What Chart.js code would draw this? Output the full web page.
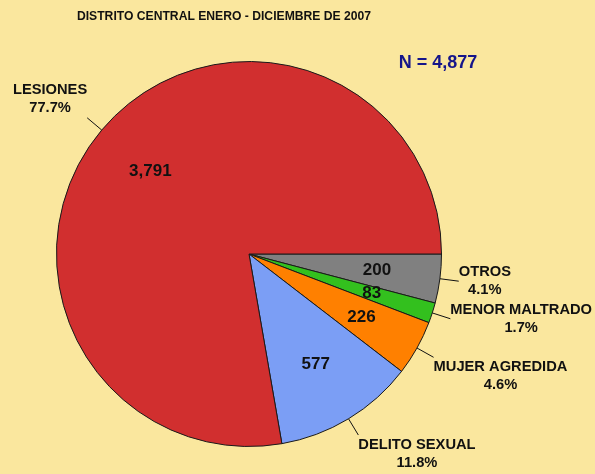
<!DOCTYPE html>
<html>
<head>
<meta charset="utf-8">
<script src="https://cdn.jsdelivr.net/npm/chart.js@4/dist/chart.umd.min.js"></script>
<style>
  html, body { margin: 0; padding: 0; background: #FAE79E; }
  #wrap { width: 595px; height: 474px; }
</style>
</head>
<body>
<div id="wrap"><canvas id="pieChart" width="595" height="474"></canvas></div>
<script>
// data (clockwise from 3 o'clock)
const categories = ['OTROS', 'MENOR MALTRADO', 'MUJER AGREDIDA', 'DELITO SEXUAL', 'LESIONES'];
const counts = [200, 83, 226, 577, 3791];
const sliceColors = ['#808080', '#33C01E', '#FF8000', '#7B9EF5', '#D12F2F'];
const chartTitle = 'DISTRITO CENTRAL ENERO - DICIEMBRE DE 2007';
const total = counts.reduce((a, b) => a + b, 0);

const FONT = '"Liberation Sans", Arial, sans-serif';

// draws background, titles, values and outside labels
const labelPlugin = {
    id: 'pieLabels',
    beforeDraw(chart) {
        const ctx = chart.ctx;
        ctx.save();
        ctx.fillStyle = '#FAE79E';
        ctx.fillRect(0, 0, chart.width, chart.height);
        ctx.restore();
    },
    afterDraw(chart) {
        const ctx = chart.ctx;
        const arcs = chart.getDatasetMeta(0).data;
        ctx.save();

        // title (slightly condensed, like the original)
        ctx.fillStyle = '#111';
        ctx.textAlign = 'center';
        ctx.textBaseline = 'middle';
        ctx.save();
        ctx.translate(224, 16);
        ctx.scale(0.9, 1);
        ctx.font = 'bold 13.5px ' + FONT;
        ctx.fillText(chartTitle, 0, 0);
        ctx.restore();

        // N = total
        ctx.fillStyle = '#15158A';
        ctx.font = 'bold 18px ' + FONT;
        ctx.fillText('N = ' + total.toLocaleString('en-US'), 438, 63);

        arcs.forEach((arc, i) => {
            const mid = (arc.startAngle + arc.endAngle) / 2;
            const cos = Math.cos(mid), sin = Math.sin(mid);
            const r = arc.outerRadius;

            // value inside slice
            ctx.fillStyle = '#111';
            ctx.font = 'bold 17px ' + FONT;
            ctx.textAlign = 'center';
            ctx.fillText(counts[i].toLocaleString('en-US'), arc.x + cos * r * 0.67, arc.y + sin * r * 0.67);

            // leader line
            const x0 = arc.x + cos * r, y0 = arc.y + sin * r;
            const x1 = arc.x + cos * (r + 19), y1 = arc.y + sin * (r + 19);
            ctx.strokeStyle = '#111';
            ctx.lineWidth = 1;
            ctx.beginPath();
            ctx.moveTo(x0, y0);
            ctx.lineTo(x1, y1);
            ctx.stroke();

            // outside label, two lines
            ctx.font = 'bold 14.7px ' + FONT;
            const pct = (counts[i] / total * 100).toFixed(1) + '%';
            const w = Math.max(ctx.measureText(categories[i]).width, ctx.measureText(pct).width);
            const cx = cos >= 0 ? x1 + w / 2 : x1 - w / 2;
            let cy = y1;
            if (Math.abs(sin) > 0.4) cy = y1 + Math.sign(sin) * 19;
            ctx.fillText(categories[i], cx, cy - 9);
            ctx.fillText(pct, cx, cy + 9);
        });
        ctx.restore();
    }
};

new Chart(document.getElementById('pieChart'), {
    type: 'pie',
    data: {
        labels: categories,
        datasets: [{
            data: counts,
            backgroundColor: sliceColors,
            borderColor: '#1a1a1a',
            borderWidth: 1
        }]
    },
    options: {
        responsive: false,
        animation: false,
        rotation: 90,
        layout: { padding: { left: 56, right: 153, top: 61, bottom: 27 } },
        plugins: {
            legend: { display: false },
            tooltip: { enabled: false },
            title: { display: false }
        }
    },
    plugins: [labelPlugin]
});
</script>
</body>
</html>
